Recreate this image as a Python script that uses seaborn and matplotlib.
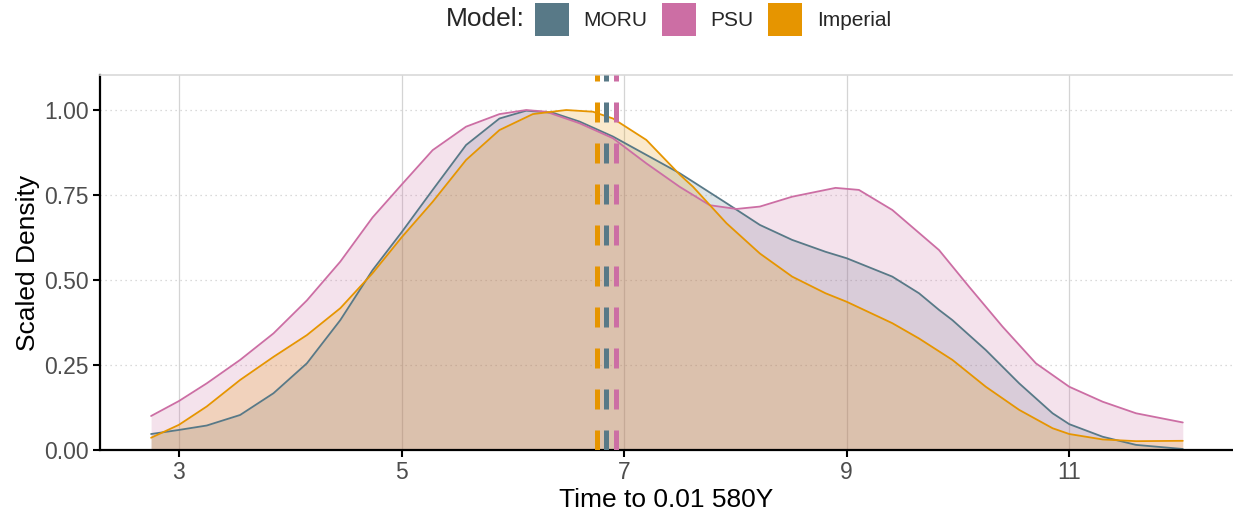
import seaborn as sns
import matplotlib.pyplot as plt
import pandas as pd
from matplotlib.patches import Patch

# curve points (scaled density)
moru_x = [2.75, 3.0, 3.25, 3.55, 3.85, 4.15, 4.45, 4.74, 5.0, 5.28, 5.58, 5.88, 6.12, 6.36, 6.60, 6.90, 7.2, 7.5,
          7.62, 7.92, 8.22, 8.51, 8.81, 9.0, 9.41, 9.65, 9.83, 9.95, 10.25, 10.55, 10.85, 11.0, 11.3, 11.6, 12.02]
moru_y = [0.047, 0.059, 0.072, 0.103, 0.167, 0.255, 0.382, 0.529, 0.64, 0.765, 0.897, 0.975, 0.998, 0.992, 0.966,
          0.922, 0.868, 0.814, 0.789, 0.726, 0.662, 0.618, 0.583, 0.564, 0.51, 0.461, 0.412, 0.382, 0.294, 0.196,
          0.108, 0.076, 0.039, 0.015, 0.003]

psu_x = [2.75, 3.0, 3.25, 3.55, 3.85, 4.15, 4.45, 4.74, 5.0, 5.28, 5.58, 5.88, 6.12, 6.30, 6.60, 6.90, 7.2, 7.5,
         7.77, 8.01, 8.22, 8.51, 8.90, 9.11, 9.41, 9.83, 10.1, 10.4, 10.7, 11.0, 11.3, 11.6, 12.02]
psu_y = [0.10, 0.144, 0.196, 0.265, 0.343, 0.44, 0.554, 0.684, 0.78, 0.882, 0.951, 0.988, 1.0, 0.995, 0.961,
         0.917, 0.843, 0.774, 0.72, 0.709, 0.716, 0.745, 0.771, 0.765, 0.706, 0.588, 0.48, 0.363, 0.255, 0.186,
         0.142, 0.108, 0.081]

imp_x = [2.75, 3.0, 3.25, 3.55, 3.85, 4.15, 4.45, 4.74, 5.0, 5.28, 5.58, 5.88, 6.18, 6.48, 6.72, 6.90, 7.2, 7.5,
         7.62, 7.92, 8.22, 8.51, 8.81, 9.0, 9.41, 9.65, 9.95, 10.25, 10.55, 10.85, 11.0, 11.3, 11.6, 12.02]
imp_y = [0.036, 0.074, 0.128, 0.206, 0.274, 0.338, 0.417, 0.52, 0.625, 0.730, 0.853, 0.941, 0.988, 1.0, 0.995,
         0.975, 0.912, 0.81, 0.774, 0.667, 0.578, 0.51, 0.461, 0.436, 0.373, 0.328, 0.265, 0.186, 0.118, 0.064,
         0.047, 0.031, 0.026, 0.027]

models = ["MORU", "PSU", "Imperial"]
means = [6.84, 6.93, 6.76]
colors = {"MORU": "#587987", "PSU": "#CC6EA4", "Imperial": "#E69500"}

df = pd.concat([
    pd.DataFrame({"model": "MORU", "x": moru_x, "y": moru_y}),
    pd.DataFrame({"model": "PSU", "x": psu_x, "y": psu_y}),
    pd.DataFrame({"model": "Imperial", "x": imp_x, "y": imp_y}),
])

sns.set_theme(style="white")
plt.rcParams["font.family"] = ["Liberation Sans", "DejaVu Sans"]

fig = plt.figure(figsize=(12.33, 5.16), dpi=100)
ax = fig.add_axes([100 / 1233, 1 - 450 / 516, 1 - 100 / 1233 - 0.001, (450 - 75) / 516])

for m in models:
    d = df[df.model == m]
    ax.fill_between(d.x, 0, d.y, color=colors[m], alpha=0.2, linewidth=0)

sns.lineplot(data=df, x="x", y="y", hue="model", palette=colors, estimator=None, sort=False,
             linewidth=1.3, legend=False, ax=ax)

# dashed mean lines
for m, mu in zip(models, means):
    ax.axvline(mu, color=colors[m], linewidth=3.6, dashes=(4, 4.2), zorder=5)

ax.set_xlim(2.291, 12.46)
ax.set_ylim(0, 1.103)
ax.set_xticks([3, 5, 7, 9, 11])
ax.set_yticks([0, 0.25, 0.5, 0.75, 1.0])
ax.set_yticklabels(["0.00", "0.25", "0.50", "0.75", "1.00"])

ax.set_axisbelow(True)
ax.xaxis.grid(True, color="#d4d4d4", linewidth=0.9)
ax.yaxis.grid(True, color="#cfcfcf", linewidth=0.9, linestyle=(0, (1, 3)))

for s in ["left", "bottom"]:
    ax.spines[s].set_color("black")
    ax.spines[s].set_linewidth(1.6)
ax.spines["right"].set_visible(False)
ax.spines["top"].set_color("#d9d9d9")
ax.spines["top"].set_linewidth(1.2)

ax.tick_params(axis="both", which="major", length=5, width=1.5, color="black",
               labelsize=16.5, labelcolor="#4d4d4d", bottom=True, left=True, pad=3)

ax.set_xlabel("Time to 0.01 580Y", fontsize=19, color="black", labelpad=3)
ax.set_ylabel("Scaled Density", fontsize=19, color="black", labelpad=3)

fig.text(525 / 1233, 1 - 19 / 516, "Model:", fontsize=19, ha="right", va="center")
handles = [Patch(facecolor=colors[m], edgecolor="none", label=m) for m in models]
fig.legend(handles=handles, loc="center left", bbox_to_anchor=(535 / 1233, 1 - 19 / 516), ncol=3,
           frameon=False, fontsize=15, handlelength=1.63, handleheight=2.06, handletextpad=0.7,
           columnspacing=0.7, borderpad=0, borderaxespad=0)

plt.savefig("out.png", dpi=100)
